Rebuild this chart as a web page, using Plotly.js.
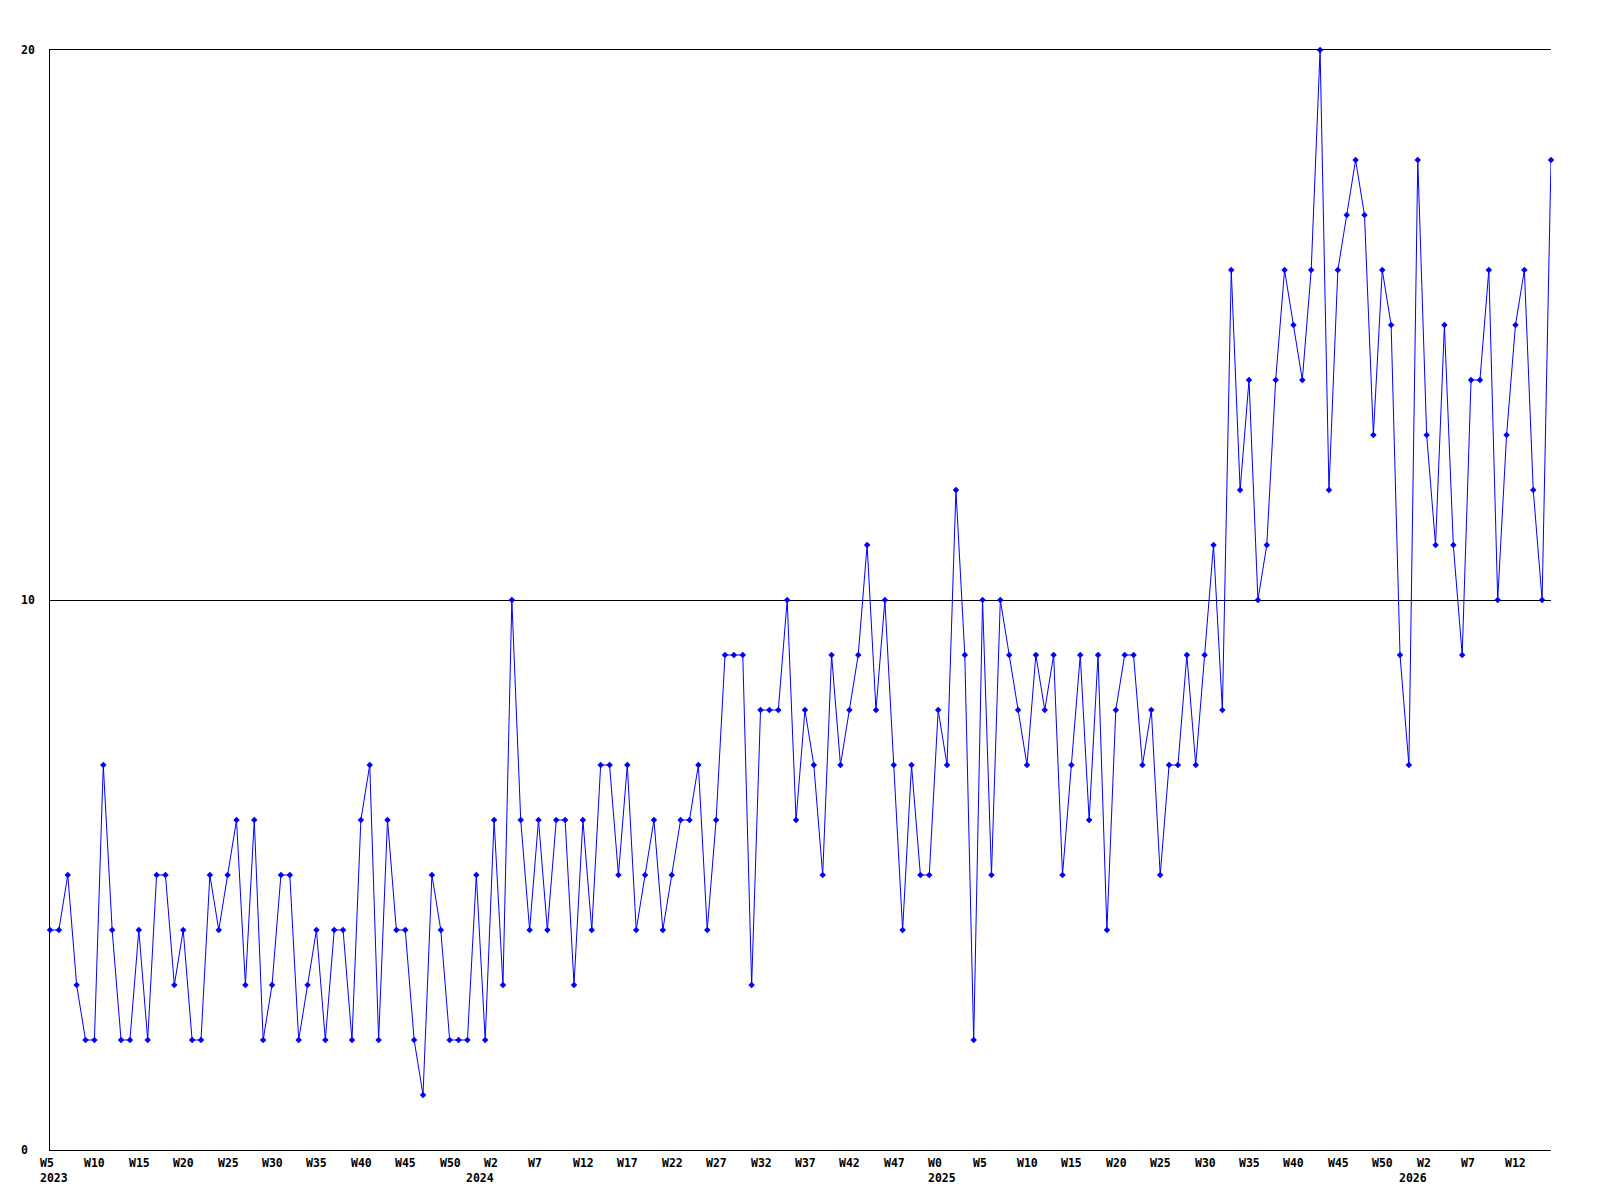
<!DOCTYPE html>
<html>
<head>
<meta charset="utf-8">
<script src="https://cdn.plot.ly/plotly-3.0.1.min.js"></script>
<style>
  html, body { margin: 0; padding: 0; background: #ffffff; }
  #chart { width: 1600px; height: 1200px; }
</style>
</head>
<body>
<div id="chart"></div>
<script>
// Weekly values, one per week, starting at 2023 W5
const values = [
  4,4,5,3,2,2,7,4,2,2,4,2,5,5,3,4,2,2,5,4,5,6,3,6,2,3,5,5,2,3,4,2,4,4,2,6,7,2,6,4,4,2,1,
  5,4,2,2,2,5,2,6,3,10,6,4,6,4,6,6,3,6,4,7,7,5,7,4,5,6,4,5,6,6,7,4,6,9,9,9,3,8,8,8,10,6,
  8,7,5,9,7,8,9,11,8,10,7,4,7,5,5,8,7,12,9,2,10,5,10,9,8,7,9,8,9,5,7,9,6,9,4,8,9,9,7,8,5,7,7,9,7,
  9,11,8,16,12,14,10,11,14,16,15,14,16,20,12,16,17,18,17,13,16,15,9,7,18,13,11,15,11,9,14,14,16,10,13,15,16,12,10,18
];

// Week tick labels (one every 5 weeks, first at the first week)
const tickLabels = [
  "W5","W10","W15","W20","W25","W30","W35","W40","W45","W50",
  "W2","W7","W12","W17","W22","W27","W32","W37","W42","W47",
  "W0","W5","W10","W15","W20","W25","W30","W35","W40","W45","W50",
  "W2","W7","W12"
];
const tickStep = 5;

// Year labels and the week position where each year begins
const yearLabels = ["2023", "2024", "2025", "2026"];
const yearIndex = [0, 48, 100, 153];

// Y axis labels
const yTicks = [0, 10, 20];

const xIdx = values.map((_, i) => i);

const labelFont = { family: "DejaVu Sans Mono", size: 11.5, color: "#000000", weight: "bold" };

const annotations = [];
tickLabels.forEach((t, k) => {
  annotations.push({
    xref: "x", yref: "paper", x: k * tickStep, y: 0,
    text: t, showarrow: false, xanchor: "left", yanchor: "top",
    xshift: -12, yshift: -4, font: labelFont
  });
});
yearLabels.forEach((t, k) => {
  annotations.push({
    xref: "x", yref: "paper", x: yearIndex[k], y: 0,
    text: t, showarrow: false, xanchor: "left", yanchor: "top",
    xshift: -12, yshift: -19, font: labelFont
  });
});
yTicks.forEach(v => {
  annotations.push({
    xref: "paper", yref: "y", x: 0, y: v,
    text: String(v), showarrow: false, xanchor: "left", yanchor: "middle",
    xshift: -31, font: labelFont
  });
});

const trace = {
  x: xIdx,
  y: values,
  type: "scatter",
  mode: "lines+markers",
  line: { color: "#0000ff", width: 1 },
  marker: { symbol: "diamond", size: 5, color: "#0000ff", line: { width: 0 } },
  hoverinfo: "x+y",
  cliponaxis: false
};

const layout = {
  width: 1600,
  height: 1200,
  margin: { l: 50, r: 49, t: 50, b: 50, pad: 0 },
  paper_bgcolor: "#ffffff",
  plot_bgcolor: "#ffffff",
  showlegend: false,
  xaxis: {
    range: [0, values.length - 1],
    showgrid: false,
    zeroline: false,
    showticklabels: false,
    ticks: "",
    showline: true,
    mirror: true,
    linecolor: "#000000",
    linewidth: 1
  },
  yaxis: {
    range: [0, 20],
    tickvals: yTicks,
    showticklabels: false,
    ticks: "",
    showgrid: true,
    gridcolor: "#000000",
    gridwidth: 1,
    zeroline: false,
    showline: true,
    linecolor: "#000000",
    linewidth: 1
  },
  annotations: annotations
};

Plotly.newPlot("chart", [trace], layout, { displayModeBar: false, staticPlot: true });
</script>
</body>
</html>
